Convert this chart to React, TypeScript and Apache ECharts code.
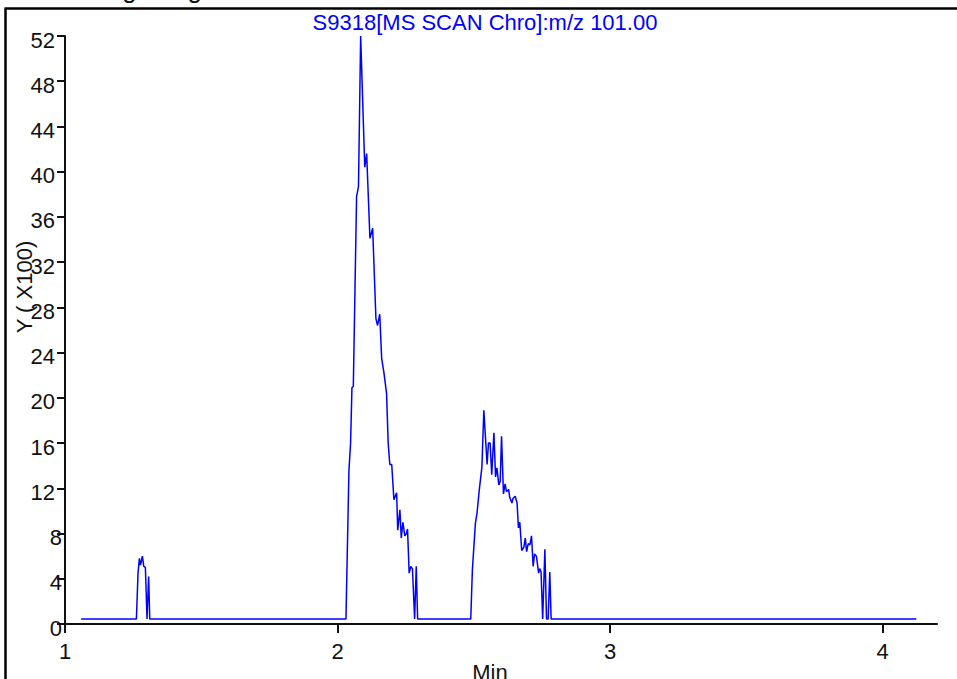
import React, { useEffect, useRef } from "react";
import * as echarts from "echarts";

// Retention time (min) and ion intensity (x100) for the m/z 101.00 trace
const times: number[] = [
  1.059, 1.262, 1.268, 1.273, 1.277, 1.284, 1.289, 1.295, 1.301, 1.307, 1.311,
  2.031, 2.042, 2.048, 2.053, 2.058, 2.070, 2.077, 2.085, 2.100, 2.107, 2.119,
  2.129, 2.141, 2.147, 2.155, 2.162, 2.170, 2.180, 2.186, 2.192, 2.199, 2.207,
  2.217, 2.221, 2.229, 2.234, 2.240, 2.247, 2.253, 2.257, 2.263, 2.269, 2.275,
  2.283, 2.289, 2.294,
  2.489, 2.495, 2.506, 2.512, 2.520, 2.530, 2.537, 2.549, 2.554, 2.560, 2.566,
  2.574, 2.580, 2.585, 2.592, 2.597, 2.602, 2.609, 2.615, 2.620, 2.628, 2.632,
  2.640, 2.644, 2.652, 2.659, 2.664, 2.669, 2.676, 2.684, 2.689, 2.694, 2.700,
  2.706, 2.712, 2.718, 2.723, 2.730, 2.738, 2.742, 2.747, 2.753, 2.761, 2.767,
  2.773, 2.779, 2.784, 4.124,
];

const intensities: number[] = [
  0.45, 0.45, 4.5, 5.8, 5.2, 6.0, 5.1, 5.0, 0.45, 4.2, 0.45,
  0.45, 13.6, 16.0, 20.9, 21.0, 37.8, 38.7, 52.0, 40.4, 41.6, 34.1,
  35.0, 27.0, 26.4, 27.4, 23.5, 22.3, 20.4, 16.0, 14.1, 14.1, 11.0,
  11.6, 8.3, 10.1, 7.6, 9.0, 7.8, 8.0, 8.4, 4.5, 5.1, 4.9,
  0.45, 5.1, 0.45,
  0.45, 4.8, 8.9, 9.8, 11.8, 13.9, 18.9, 14.1, 16.0, 16.0, 13.2,
  16.9, 13.0, 13.8, 12.3, 12.6, 16.6, 11.5, 12.4, 11.7, 11.9, 11.2,
  10.7, 11.1, 11.3, 10.7, 8.5, 9.0, 6.5, 6.8, 7.6, 6.4, 7.1,
  7.0, 7.8, 5.1, 6.2, 6.0, 4.5, 4.9, 4.6, 0.45, 6.6, 0.45,
  0.45, 4.6, 0.45, 0.45,
];

const chartTitle = "S9318[MS SCAN Chro]:m/z 101.00";
const yAxisTitle = "Y ( X100)";
const xAxisTitle = "Min";
const headerText = "Integrating";

const FONT = "'Liberation Sans', Arial, 'DejaVu Sans', sans-serif";
const BLUE = "#0000ff";
const INK = "#111111";

export default function App() {
  const ref = useRef<HTMLDivElement>(null);

  useEffect(() => {
    if (!ref.current) return;
    const chart = echarts.init(ref.current, undefined, { renderer: "svg" });
    const points = times.map((t, i) => [t, intensities[i]]);

    chart.setOption({
      animation: false,
      backgroundColor: "#ffffff",
      grid: { left: 65, top: 36, right: 20, bottom: 55, containLabel: false },
      xAxis: {
        type: "value",
        min: 1,
        max: 4.2,
        interval: 1,
        splitLine: { show: false },
        axisLine: { lineStyle: { color: INK, width: 2 } },
        axisTick: { inside: false, length: 9, lineStyle: { color: INK, width: 2 } },
        axisLabel: {
          showMaxLabel: false,
          margin: 16,
          color: INK,
          fontSize: 22,
          fontFamily: FONT,
        },
      },
      yAxis: {
        type: "value",
        min: 0,
        max: 52,
        interval: 4,
        splitLine: { show: false },
        axisLine: { lineStyle: { color: INK, width: 2 } },
        axisTick: { inside: false, length: 8, lineStyle: { color: INK, width: 2 } },
        axisLabel: {
          margin: 3,
          color: INK,
          fontSize: 22,
          fontFamily: FONT,
          formatter: (v: number) => (v >= 10 ? `{d|${v}}` : `{s|${v}}`),
          rich: {
            d: { fontSize: 22, fontFamily: FONT, color: INK, padding: [8, 7, 0, 0] },
            s: { fontSize: 22, fontFamily: FONT, color: INK, padding: [8, 0, 0, 0] },
          },
        },
      },
      graphic: [
        {
          type: "line",
          shape: { x1: 5.5, y1: 8.5, x2: 5.5, y2: 679 },
          style: { stroke: "#000", lineWidth: 2.5 },
          silent: true,
        },
        {
          type: "line",
          shape: { x1: 4.5, y1: 8.5, x2: 957, y2: 8.5 },
          style: { stroke: "#000", lineWidth: 2.5 },
          silent: true,
        },
        {
          type: "text",
          x: 79,
          y: 2,
          style: {
            text: headerText,
            fill: INK,
            font: `26px ${FONT}`,
            textAlign: "left",
            textVerticalAlign: "bottom",
          },
          silent: true,
        },
        {
          type: "text",
          x: 485,
          y: 11,
          style: {
            text: chartTitle,
            fill: BLUE,
            font: `22px ${FONT}`,
            textAlign: "center",
            textVerticalAlign: "top",
          },
          silent: true,
        },
        {
          type: "text",
          x: 24,
          y: 287,
          rotation: Math.PI / 2,
          style: {
            text: yAxisTitle,
            fill: INK,
            font: `22px ${FONT}`,
            textAlign: "center",
            textVerticalAlign: "middle",
          },
          silent: true,
        },
        {
          type: "text",
          x: 490,
          y: 661,
          style: {
            text: xAxisTitle,
            fill: INK,
            font: `22px ${FONT}`,
            textAlign: "center",
            textVerticalAlign: "top",
          },
          silent: true,
        },
      ],
      series: [
        {
          type: "line",
          data: points,
          showSymbol: false,
          symbol: "none",
          lineStyle: { color: BLUE, width: 1.5 },
          z: 3,
        },
      ],
    });

    return () => chart.dispose();
  }, []);

  return (
    <div
      ref={ref}
      style={{ position: "fixed", left: 0, top: 0, width: 957, height: 679, background: "#fff" }}
    />
  );
}
